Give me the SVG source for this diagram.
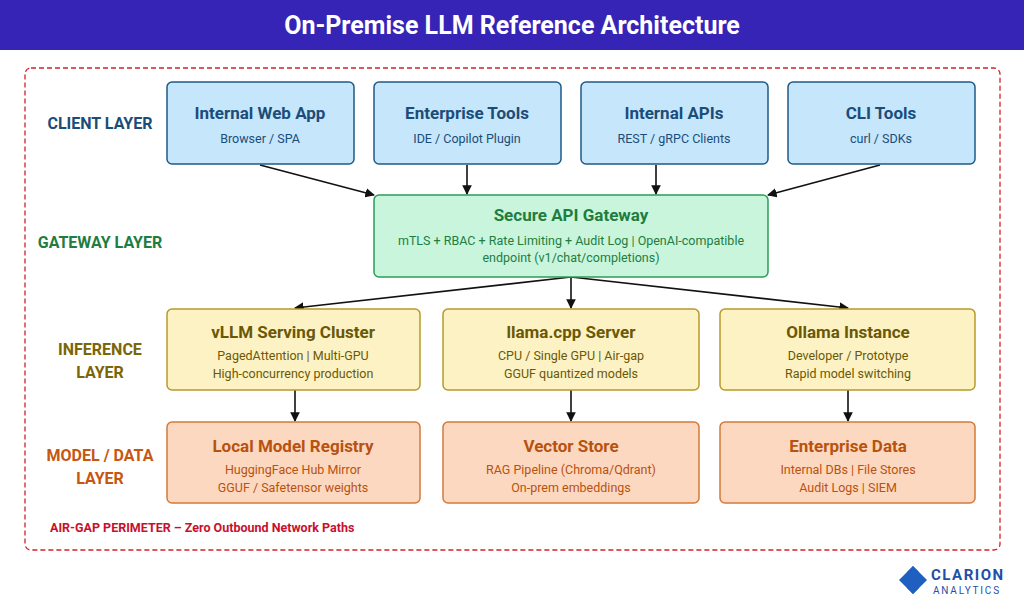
<svg xmlns="http://www.w3.org/2000/svg" width="1024" height="602" viewBox="0 0 1024 602">
<style>
text{font-family:Roboto,"Liberation Sans",sans-serif;text-anchor:middle}
.t{font-size:17px;font-weight:bold}.s{font-size:12.5px}
.c rect{fill:#c6e6fc;stroke:#1f5a86;stroke-width:1.5}.c text{fill:#1a4d78}
.g rect{fill:#c9f5dd;stroke:#2a9d5a;stroke-width:1.5}.g text{fill:#1e7d3f}
.i rect{fill:#fdf2c3;stroke:#b89a2a;stroke-width:1.5}.i text{fill:#6b5806}
.m rect{fill:#fdd8c0;stroke:#d27a3a;stroke-width:1.5}.m text{fill:#b8520f}
.lbl{font-size:16px;font-weight:bold}
#edges line{stroke:#111;stroke-width:1.6;marker-end:url(#a)}
</style>
<defs><marker id="a" viewBox="0 0 10 10" refX="9" refY="5" markerWidth="6" markerHeight="6" orient="auto"><path d="M0,0L10,5L0,10z" fill="#111"/></marker></defs>
<rect width="1024" height="602" fill="#fff"/>
<rect width="1024" height="50" fill="#3624b6"/>
<text x="512" y="34" fill="#fff" style="font-size:25px;font-weight:bold">On-Premise LLM Reference Architecture</text>
<rect x="25" y="68" width="975" height="482" rx="6" fill="none" stroke="#d0212e" stroke-width="1.3" stroke-dasharray="5,3"/>
<g class="lbl">
<text x="100" y="129" fill="#1a4d78">CLIENT LAYER</text>
<text x="100" y="248" fill="#1e7d3f">GATEWAY LAYER</text>
<text x="100" y="355" fill="#7a6508">INFERENCE</text><text x="100" y="378" fill="#7a6508">LAYER</text>
<text x="100" y="461" fill="#c7560f">MODEL / DATA</text><text x="100" y="484" fill="#c7560f">LAYER</text>
</g>
<g id="edges">
<line x1="260" y1="165" x2="374" y2="195"/><line x1="467" y1="165" x2="467" y2="194"/>
<line x1="656" y1="165" x2="656" y2="194"/><line x1="880" y1="165" x2="768" y2="195"/>
<line x1="571" y1="277" x2="295" y2="308"/><line x1="571" y1="277" x2="571" y2="308"/><line x1="571" y1="277" x2="848" y2="308"/>
<line x1="295" y1="390" x2="295" y2="421"/><line x1="571" y1="390" x2="571" y2="421"/><line x1="848" y1="390" x2="848" y2="421"/>
</g>
<g id="webapp" class="c"><rect x="167" y="82" width="187" height="82" rx="5"/><text class="t" x="260" y="119">Internal Web App</text><text class="s" x="260" y="143">Browser / SPA</text></g>
<g id="enttools" class="c"><rect x="374" y="82" width="187" height="82" rx="5"/><text class="t" x="467" y="119">Enterprise Tools</text><text class="s" x="467" y="143">IDE / Copilot Plugin</text></g>
<g id="apis" class="c"><rect x="581" y="82" width="187" height="82" rx="5"/><text class="t" x="674" y="119">Internal APIs</text><text class="s" x="674" y="143">REST / gRPC Clients</text></g>
<g id="cli" class="c"><rect x="788" y="82" width="187" height="82" rx="5"/><text class="t" x="881" y="119">CLI Tools</text><text class="s" x="881" y="143">curl / SDKs</text></g>
<g id="gateway" class="g"><rect x="374" y="195" width="394" height="82" rx="5"/><text class="t" x="571" y="221">Secure API Gateway</text><text class="s" x="571" y="245">mTLS + RBAC + Rate Limiting + Audit Log | OpenAI-compatible</text><text class="s" x="571" y="262">endpoint (v1/chat/completions)</text></g>
<g id="vllm" class="i"><rect x="167" y="309" width="253" height="81" rx="5"/><text class="t" x="293" y="338">vLLM Serving Cluster</text><text class="s" x="293" y="360">PagedAttention | Multi-GPU</text><text class="s" x="293" y="378">High-concurrency production</text></g>
<g id="llamacpp" class="i"><rect x="443" y="309" width="256" height="81" rx="5"/><text class="t" x="571" y="338">llama.cpp Server</text><text class="s" x="571" y="360">CPU / Single GPU | Air-gap</text><text class="s" x="571" y="378">GGUF quantized models</text></g>
<g id="ollama" class="i"><rect x="720" y="309" width="255" height="81" rx="5"/><text class="t" x="848" y="338">Ollama Instance</text><text class="s" x="848" y="360">Developer / Prototype</text><text class="s" x="848" y="378">Rapid model switching</text></g>
<g id="registry" class="m"><rect x="167" y="422" width="253" height="81" rx="5"/><text class="t" x="293" y="452">Local Model Registry</text><text class="s" x="293" y="474">HuggingFace Hub Mirror</text><text class="s" x="293" y="492">GGUF / Safetensor weights</text></g>
<g id="vector" class="m"><rect x="443" y="422" width="256" height="81" rx="5"/><text class="t" x="571" y="452">Vector Store</text><text class="s" x="571" y="474">RAG Pipeline (Chroma/Qdrant)</text><text class="s" x="571" y="492">On-prem embeddings</text></g>
<g id="entdata" class="m"><rect x="720" y="422" width="255" height="81" rx="5"/><text class="t" x="848" y="452">Enterprise Data</text><text class="s" x="848" y="474">Internal DBs | File Stores</text><text class="s" x="848" y="492">Audit Logs | SIEM</text></g>
<text x="50" y="532" fill="#c8102e" style="font-size:12.5px;font-weight:bold;text-anchor:start">AIR-GAP PERIMETER – Zero Outbound Network Paths</text>
<g id="logo">
<path d="M913,566L899,580L913,594L919,588L911,580L919,572z" fill="#1f5fbf"/>
<path d="M913,566L927,580L913,594L907,588L915,580L907,572z" fill="#1f5fbf"/>
<path d="M913,575L918,580L913,585L908,580z" fill="#1f5fbf"/>
<text x="931" y="580" fill="#1f4fa8" style="font-size:15px;font-weight:bold;text-anchor:start;letter-spacing:1.5px">CLARION</text>
<text x="933" y="594" fill="#1f4fa8" style="font-size:10px;text-anchor:start;letter-spacing:1.8px">ANALYTICS</text>
</g>
</svg>
